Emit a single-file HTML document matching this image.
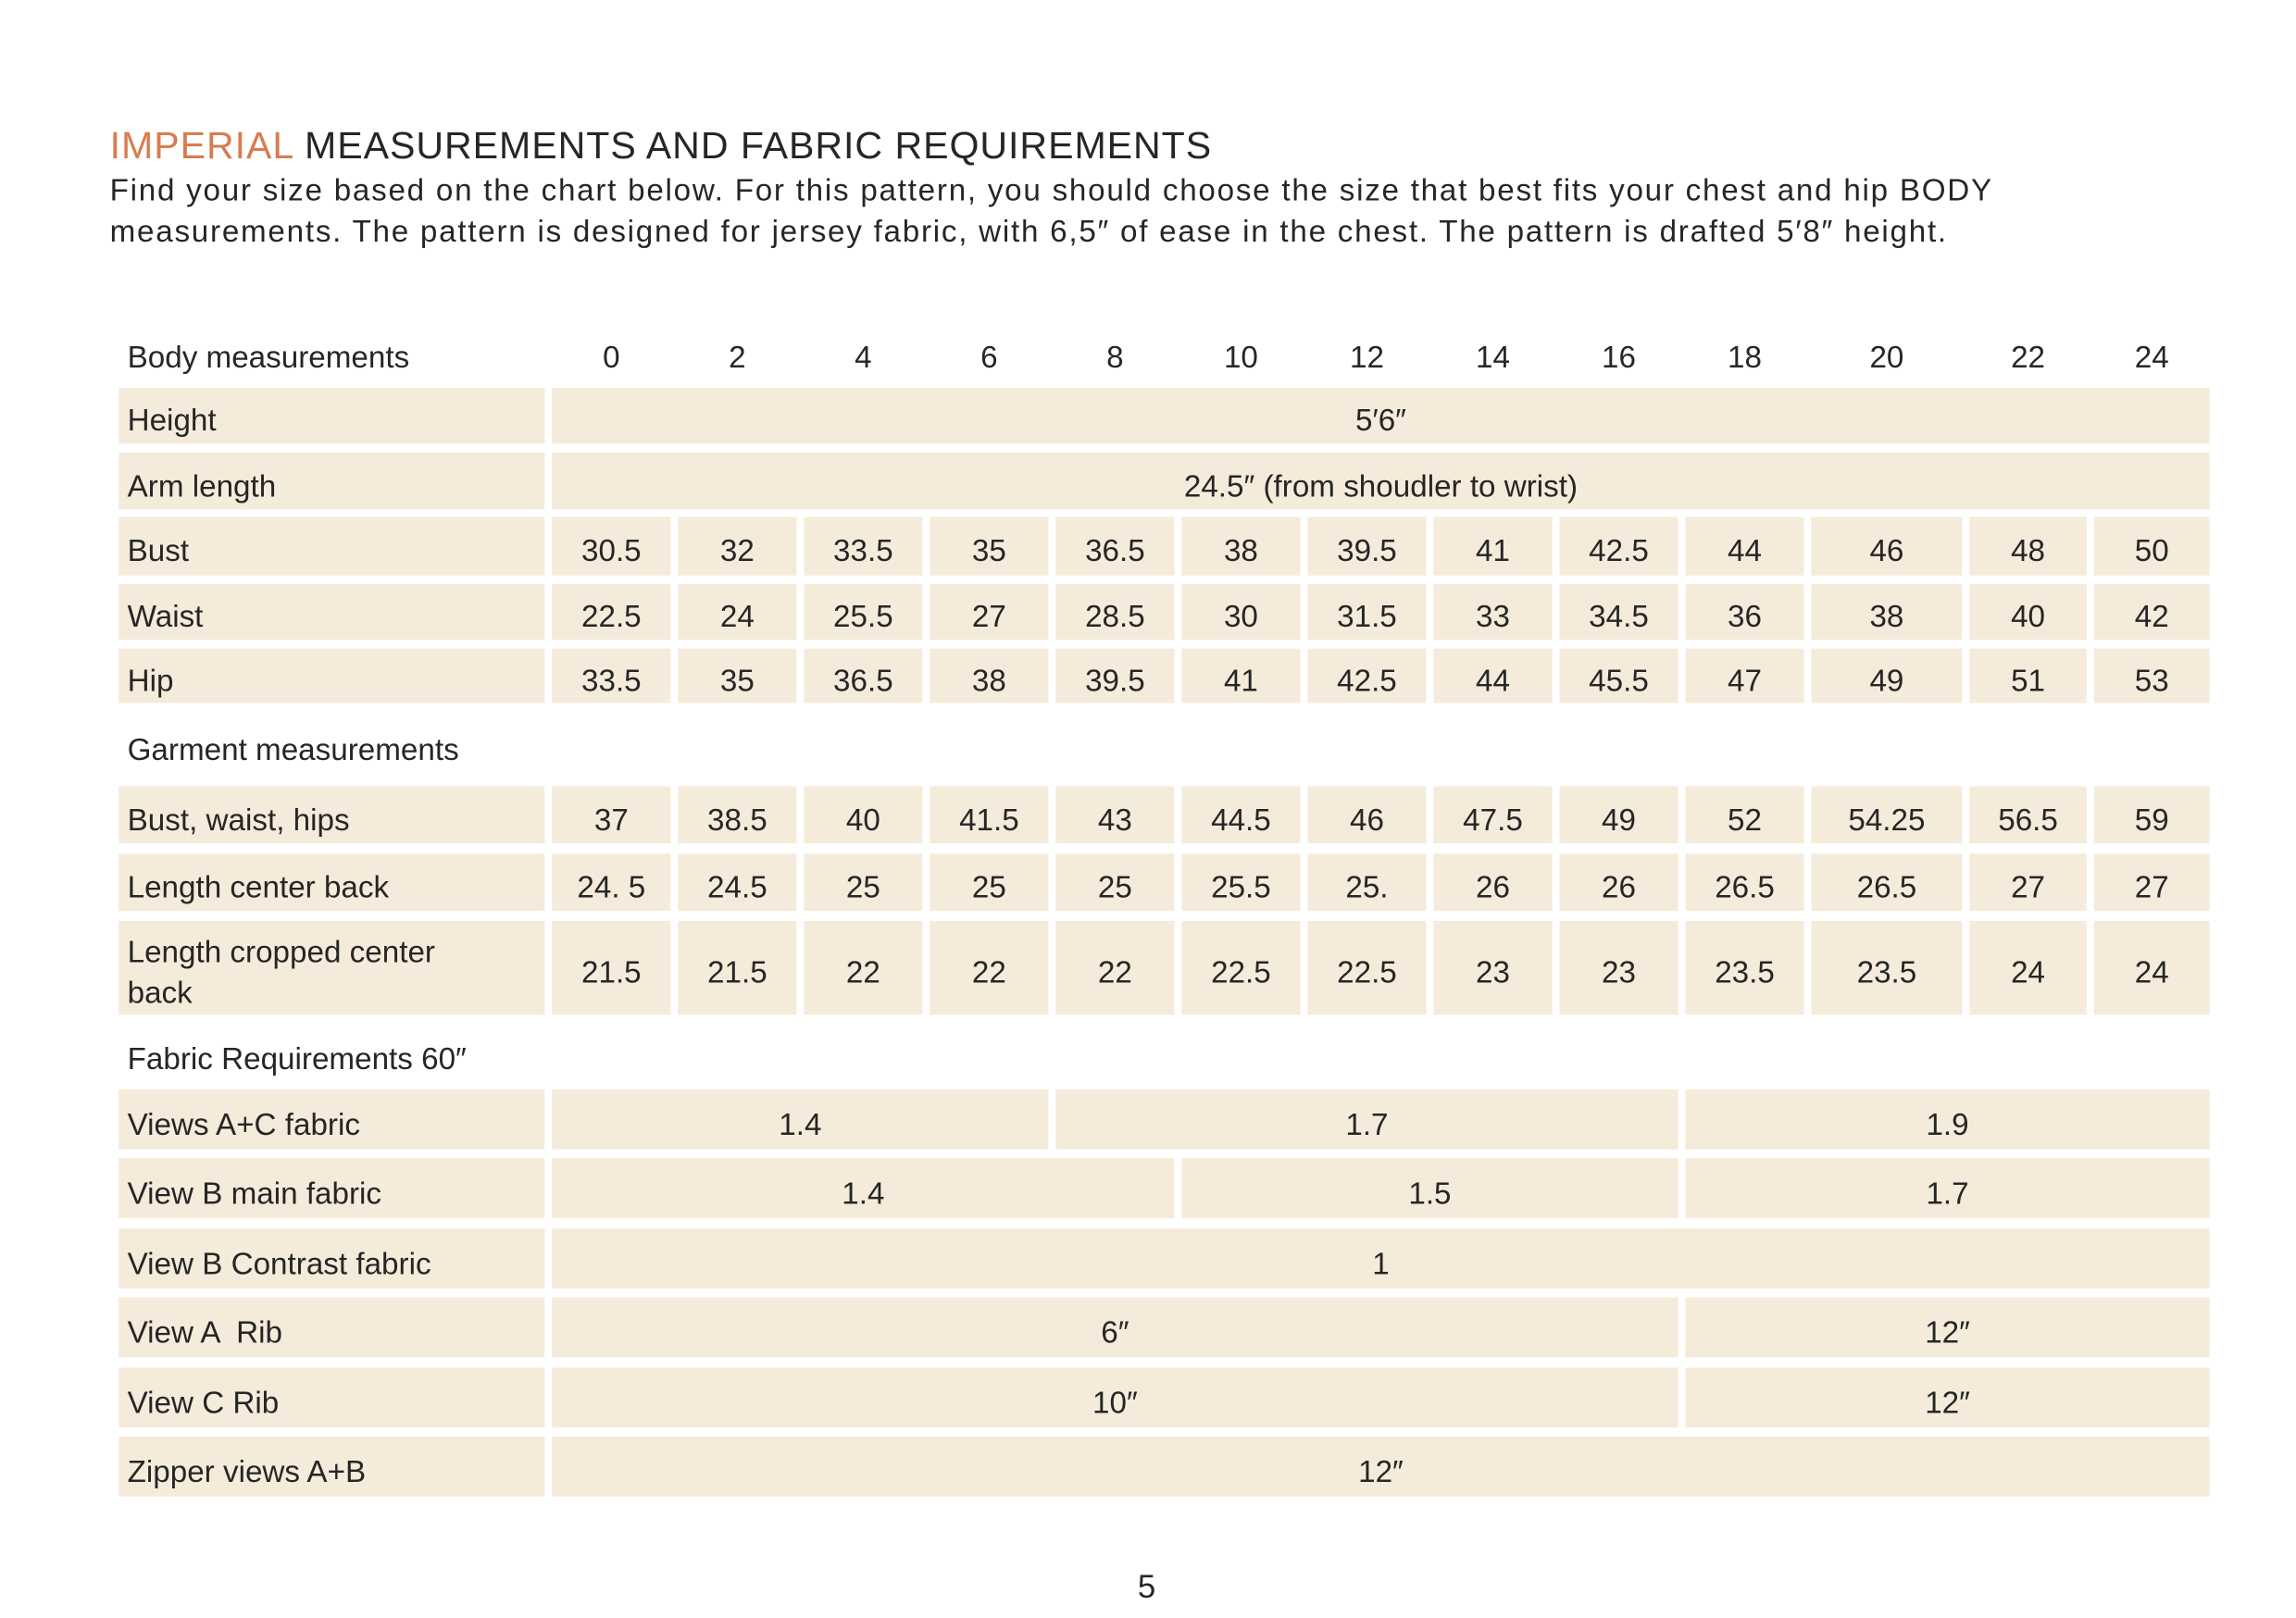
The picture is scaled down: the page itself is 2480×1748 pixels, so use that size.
<!DOCTYPE html>
<html><head><meta charset="utf-8"><style>
html,body{margin:0;padding:0;background:#fff;}
#w{position:absolute;left:0;top:0;width:1568px;height:1105px;transform:scale(1.58163,1.58190);transform-origin:0 0;font-family:"Liberation Sans",sans-serif;color:#262626;}
.t{position:absolute;white-space:nowrap;}
.row{position:absolute;left:81px;display:grid;grid-template-columns:291px repeat(10,81px) 103px 80px 79px;column-gap:5px;}
.row div{background:#f5ebda;display:flex;align-items:center;justify-content:center;font-size:21px;padding-top:8px;box-sizing:border-box;}
.row div.l{justify-content:flex-start;padding-left:6px;}
.hdr div{background:none;}
</style></head><body><div id="w">
<div class="t" style="left:75px;top:84px;font-size:26px;letter-spacing:0.6px;"><span style="color:#d97c4e">IMPERIAL</span> MEASUREMENTS AND FABRIC REQUIREMENTS</div>
<div class="t" style="left:75px;top:117px;font-size:21px;letter-spacing:1.1px;line-height:28px;">Find your size based on the chart below. For this pattern, you should choose the size that best fits your chest and hip BODY<br>measurements. The pattern is designed for jersey fabric, with 6,5″ of ease in the chest. The pattern is drafted 5′8″ height.</div>

<div class="row hdr" style="top:222px;height:38px"><div class="l">Body measurements</div><div>0</div><div>2</div><div>4</div><div>6</div><div>8</div><div>10</div><div>12</div><div>14</div><div>16</div><div>18</div><div>20</div><div>22</div><div>24</div></div>
<div class="row" style="top:265px;height:38px"><div class="l">Height</div><div style="grid-column:2/15">5′6″</div></div>
<div class="row" style="top:309px;height:39px"><div class="l">Arm length</div><div style="grid-column:2/15">24.5″ (from shoudler to wrist)</div></div>
<div class="row" style="top:353px;height:40px"><div class="l">Bust</div><div>30.5</div><div>32</div><div>33.5</div><div>35</div><div>36.5</div><div>38</div><div>39.5</div><div>41</div><div>42.5</div><div>44</div><div>46</div><div>48</div><div>50</div></div>
<div class="row" style="top:399px;height:38px"><div class="l">Waist</div><div>22.5</div><div>24</div><div>25.5</div><div>27</div><div>28.5</div><div>30</div><div>31.5</div><div>33</div><div>34.5</div><div>36</div><div>38</div><div>40</div><div>42</div></div>
<div class="row" style="top:443px;height:37px"><div class="l">Hip</div><div>33.5</div><div>35</div><div>36.5</div><div>38</div><div>39.5</div><div>41</div><div>42.5</div><div>44</div><div>45.5</div><div>47</div><div>49</div><div>51</div><div>53</div></div>
<div class="row hdr" style="top:490px;height:38px"><div class="l">Garment measurements</div></div>
<div class="row" style="top:537px;height:39px"><div class="l">Bust, waist, hips</div><div>37</div><div>38.5</div><div>40</div><div>41.5</div><div>43</div><div>44.5</div><div>46</div><div>47.5</div><div>49</div><div>52</div><div>54.25</div><div>56.5</div><div>59</div></div>
<div class="row" style="top:583px;height:39px"><div class="l">Length center back</div><div>24. 5</div><div>24.5</div><div>25</div><div>25</div><div>25</div><div>25.5</div><div>25.</div><div>26</div><div>26</div><div>26.5</div><div>26.5</div><div>27</div><div>27</div></div>
<div class="row" style="top:629px;height:63px"><div class="l" style="line-height:28px">Length cropped center<br>back</div><div>21.5</div><div>21.5</div><div>22</div><div>22</div><div>22</div><div>22.5</div><div>22.5</div><div>23</div><div>23</div><div>23.5</div><div>23.5</div><div>24</div><div>24</div></div>
<div class="row hdr" style="top:701px;height:38px"><div class="l">Fabric Requirements 60″</div></div>
<div class="row" style="top:744px;height:41px"><div class="l">Views A+C fabric</div><div style="grid-column:2/6">1.4</div><div style="grid-column:6/11">1.7</div><div style="grid-column:11/15">1.9</div></div>
<div class="row" style="top:791px;height:41px"><div class="l">View B main fabric</div><div style="grid-column:2/7">1.4</div><div style="grid-column:7/11">1.5</div><div style="grid-column:11/15">1.7</div></div>
<div class="row" style="top:839px;height:41px"><div class="l">View B Contrast fabric</div><div style="grid-column:2/15">1</div></div>
<div class="row" style="top:886px;height:41px"><div class="l">View A &nbsp;Rib</div><div style="grid-column:2/11">6″</div><div style="grid-column:11/15">12″</div></div>
<div class="row" style="top:934px;height:41px"><div class="l">View C Rib</div><div style="grid-column:2/11">10″</div><div style="grid-column:11/15">12″</div></div>
<div class="row" style="top:981px;height:41px"><div class="l">Zipper views A+B</div><div style="grid-column:2/15">12″</div></div>
<div class="t" style="left:777px;top:1071px;font-size:22px;">5</div>
</div></body></html>
